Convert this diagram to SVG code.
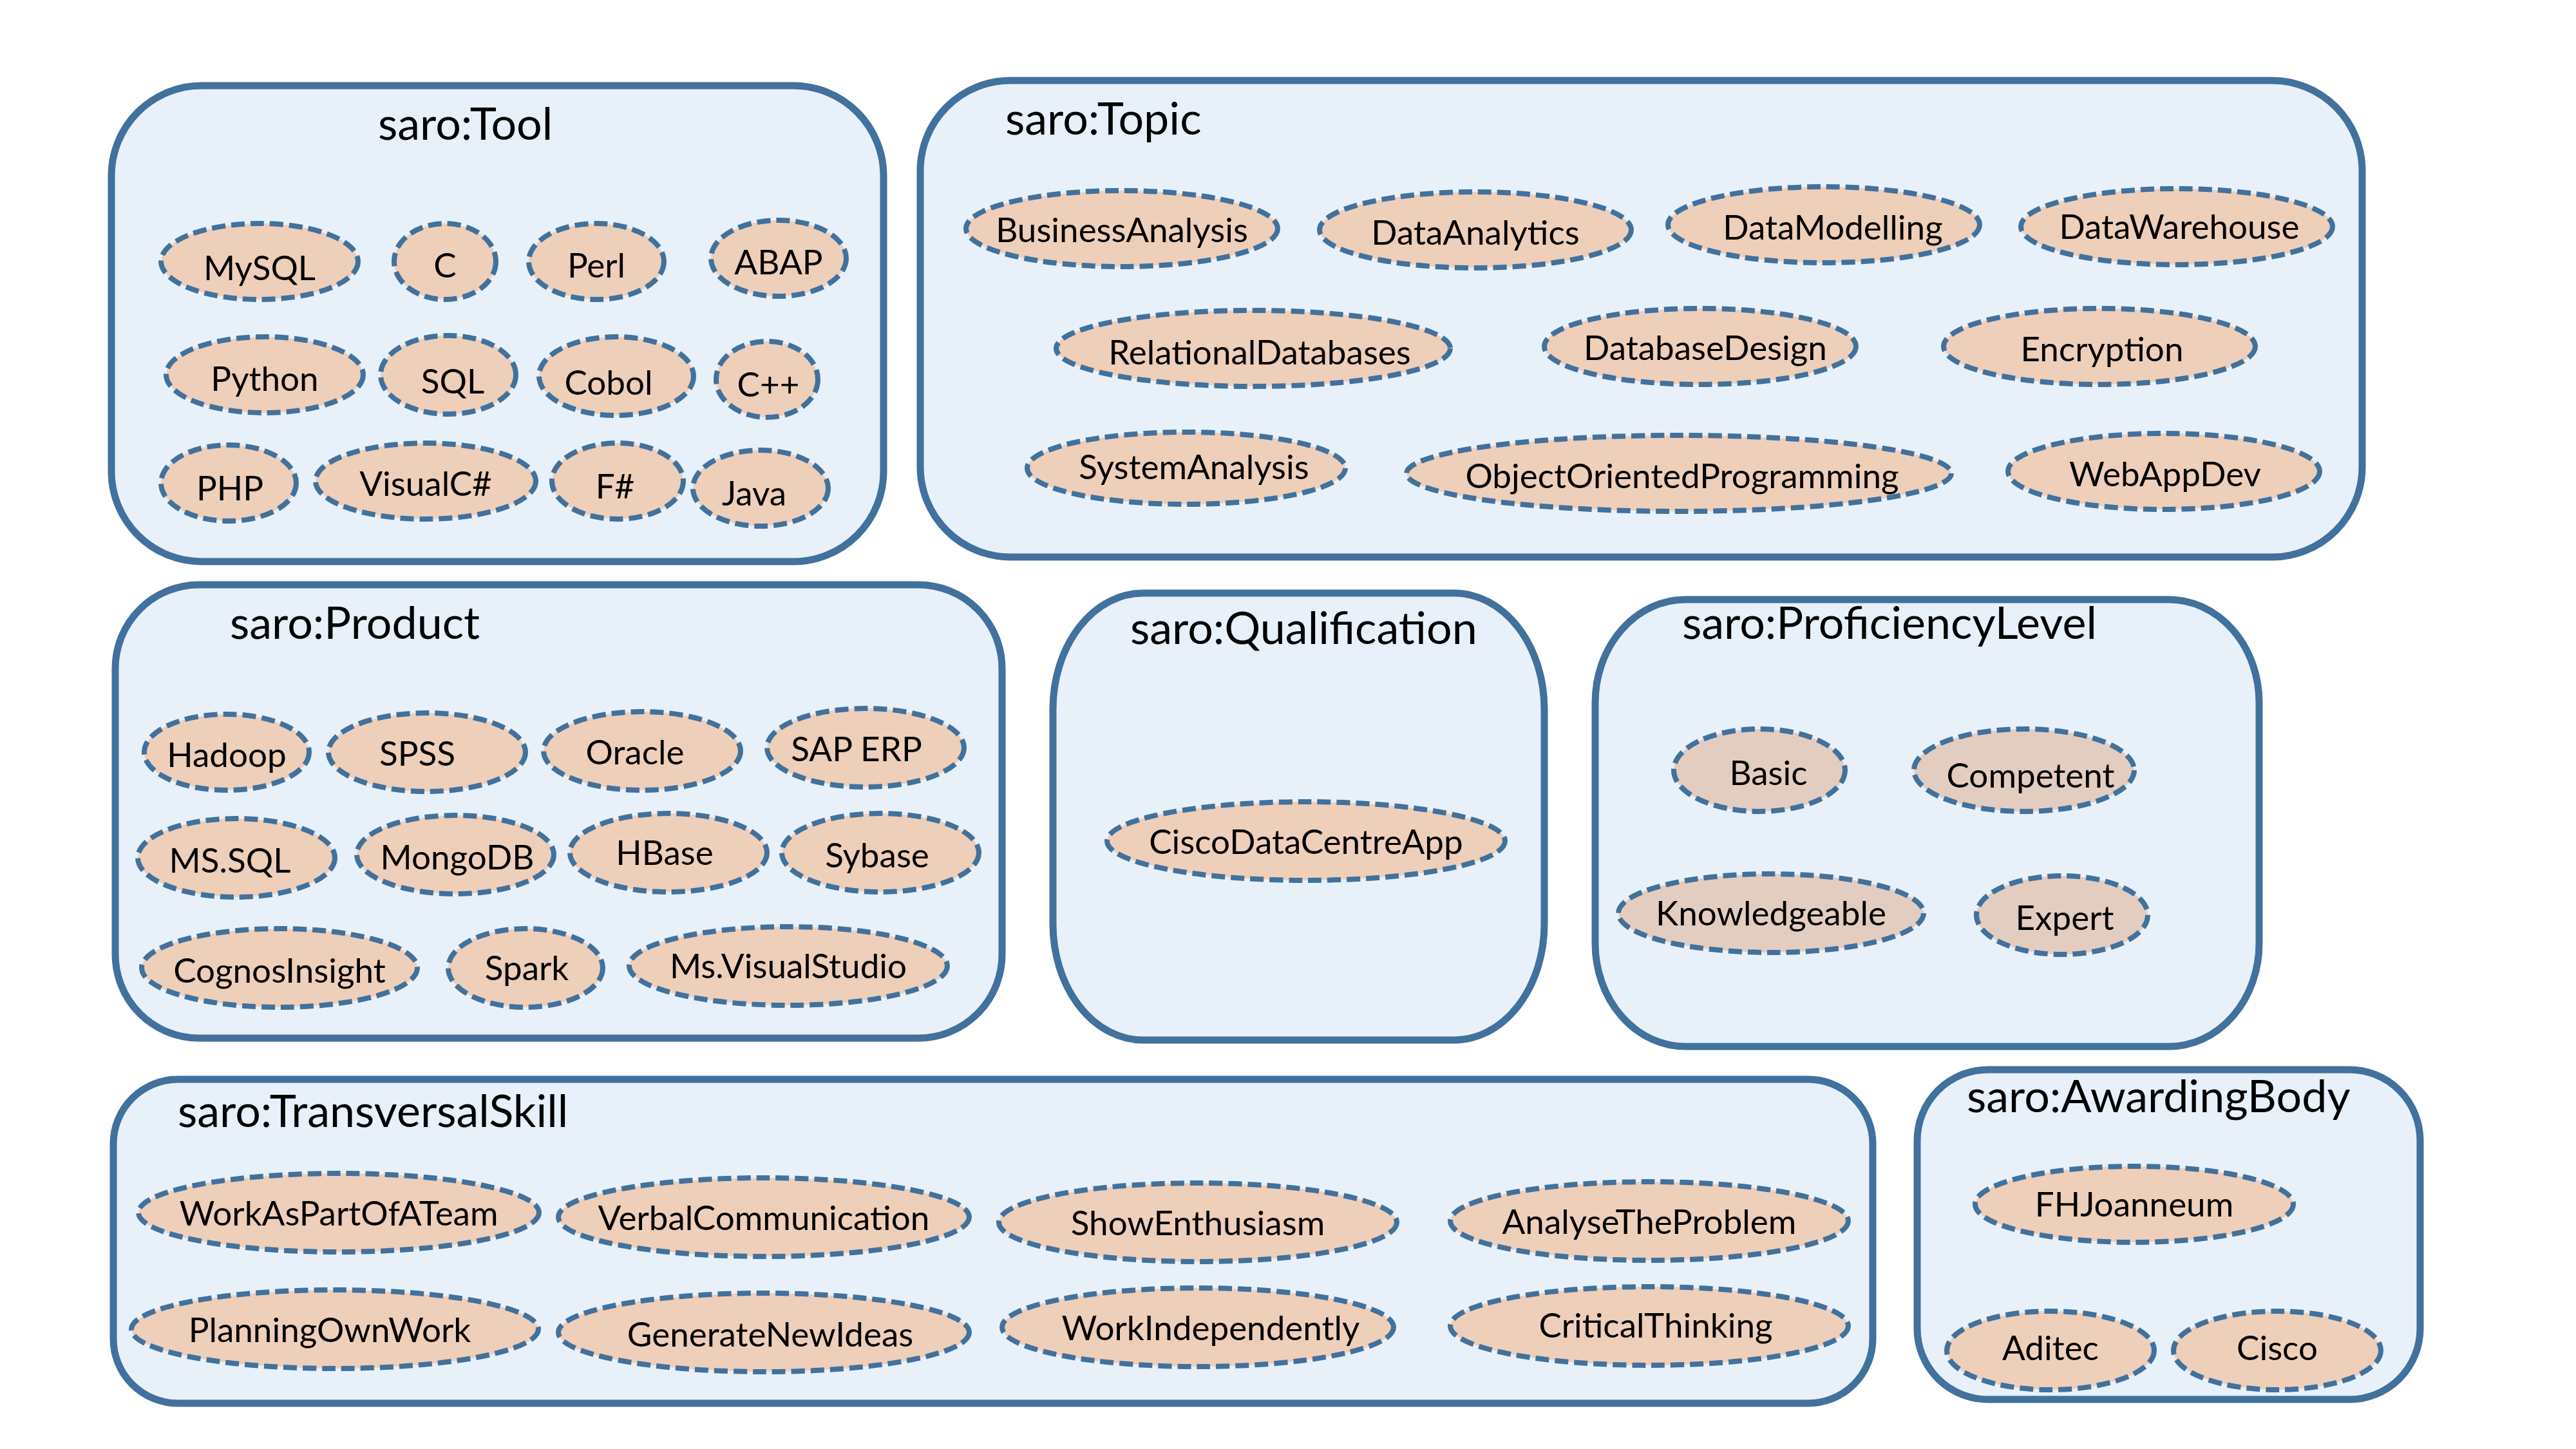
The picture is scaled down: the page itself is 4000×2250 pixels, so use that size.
<svg xmlns="http://www.w3.org/2000/svg" width="4000" height="2250" viewBox="0 0 4000 2250">
<style>
.box{fill:#E8F0F9;stroke:#41719C;stroke-width:11}
.el{fill:#EECFBA;stroke:#41719C;stroke-width:8;stroke-dasharray:21 9}
.el2{fill:#E3CDC1;stroke:#41719C;stroke-width:8;stroke-dasharray:21 9}
.t{font-family:Lato,"Liberation Sans",sans-serif;font-size:70px;fill:#000}
.l{font-family:Lato,"Liberation Sans",sans-serif;font-size:53px;fill:#000;text-anchor:middle;dominant-baseline:central}
</style>
<rect width="4000" height="2250" fill="#fff"/>
<g id="connectors"></g>

<g id="tool">
<rect class="box" x="173" y="133" width="1199" height="739" rx="140" ry="140"/>
<text class="t" x="587" y="217">saro:Tool</text>
<g id="mysql"><ellipse class="el" cx="403" cy="406" rx="153" ry="59"/><text class="l" x="403" y="414">MySQL</text></g>
<g id="c"><ellipse class="el" cx="691" cy="406" rx="79" ry="59"/><text class="l" x="691" y="410">C</text></g>
<g id="perl"><ellipse class="el" cx="926" cy="406" rx="105" ry="59"/><text class="l" x="926" y="410">Perl</text></g>
<g id="abap"><ellipse class="el" cx="1209" cy="401" rx="105" ry="59"/><text class="l" x="1209" y="405">ABAP</text></g>
<g id="python"><ellipse class="el" cx="411" cy="582" rx="153" ry="59"/><text class="l" x="411" y="586">Python</text></g>
<g id="sql"><ellipse class="el" cx="696" cy="582" rx="105" ry="61"/><text class="l" x="703" y="590">SQL</text></g>
<g id="cobol"><ellipse class="el" cx="957" cy="584" rx="120" ry="61"/><text class="l" x="945" y="592">Cobol</text></g>
<g id="cpp"><ellipse class="el" cx="1191" cy="589" rx="79" ry="59"/><text class="l" x="1193" y="595">C++</text></g>
<g id="php"><ellipse class="el" cx="355" cy="750" rx="105" ry="59"/><text class="l" x="357" y="756">PHP</text></g>
<g id="visualcs"><ellipse class="el" cx="661" cy="747" rx="171" ry="59"/><text class="l" x="661" y="749">VisualC#</text></g>
<g id="fsharp"><ellipse class="el" cx="959" cy="747" rx="102" ry="59"/><text class="l" x="955" y="753">F#</text></g>
<g id="java"><ellipse class="el" cx="1181" cy="758" rx="105" ry="59"/><text class="l" x="1171" y="764">Java</text></g>
</g>

<g id="topic">
<rect class="box" x="1429" y="125" width="2239" height="740" rx="140" ry="140"/>
<text class="t" x="1561" y="209">saro:Topic</text>
<g id="businessanalysis"><ellipse class="el" cx="1742" cy="355" rx="242" ry="59"/><text class="l" x="1742" y="355">BusinessAnalysis</text></g>
<g id="dataanalytics"><ellipse class="el" cx="2291" cy="357" rx="242" ry="59"/><text class="l" x="2291" y="359">DataAnalytics</text></g>
<g id="datamodelling"><ellipse class="el" cx="2832" cy="349" rx="242" ry="59"/><text class="l" x="2846" y="351">DataModelling</text></g>
<g id="datawarehouse"><ellipse class="el" cx="3380" cy="352" rx="242" ry="59"/><text class="l" x="3384" y="350">DataWarehouse</text></g>
<g id="relationaldatabases"><ellipse class="el" cx="1946" cy="541" rx="306" ry="59"/><text class="l" x="1956" y="545">RelationalDatabases</text></g>
<g id="databasedesign"><ellipse class="el" cx="2640" cy="538" rx="242" ry="59"/><text class="l" x="2648" y="538">DatabaseDesign</text></g>
<g id="encryption"><ellipse class="el" cx="3260" cy="538" rx="242" ry="59"/><text class="l" x="3264" y="540">Encryption</text></g>
<g id="systemanalysis"><ellipse class="el" cx="1842" cy="727" rx="247" ry="56"/><text class="l" x="1854" y="723">SystemAnalysis</text></g>
<g id="oop"><ellipse class="el" cx="2607" cy="735" rx="423" ry="59"/><text class="l" x="2612" y="737">ObjectOrientedProgramming</text></g>
<g id="webappdev"><ellipse class="el" cx="3360" cy="732" rx="242" ry="59"/><text class="l" x="3362" y="734">WebAppDev</text></g>
</g>

<g id="product">
<rect class="box" x="179" y="908" width="1377" height="704" rx="130" ry="130"/>
<text class="t" x="357" y="992">saro:Product</text>
<g id="hadoop"><ellipse class="el" cx="352" cy="1168" rx="128" ry="59"/><text class="l" x="352" y="1170">Hadoop</text></g>
<g id="spss"><ellipse class="el" cx="663" cy="1168" rx="153" ry="61"/><text class="l" x="648" y="1168">SPSS</text></g>
<g id="oracle"><ellipse class="el" cx="997" cy="1166" rx="153" ry="61"/><text class="l" x="986" y="1166">Oracle</text></g>
<g id="saperp"><ellipse class="el" cx="1344" cy="1161" rx="153" ry="61"/><text class="l" x="1330" y="1161">SAP ERP</text></g>
<g id="mssql"><ellipse class="el" cx="367" cy="1332" rx="153" ry="61"/><text class="l" x="357" y="1334">MS.SQL</text></g>
<g id="mongodb"><ellipse class="el" cx="707" cy="1327" rx="153" ry="61"/><text class="l" x="710" y="1329">MongoDB</text></g>
<g id="hbase"><ellipse class="el" cx="1038" cy="1324" rx="153" ry="61"/><text class="l" x="1032" y="1322">HBase</text></g>
<g id="sybase"><ellipse class="el" cx="1367" cy="1324" rx="153" ry="61"/><text class="l" x="1362" y="1326">Sybase</text></g>
<g id="cognosinsight"><ellipse class="el" cx="434" cy="1503" rx="214" ry="61"/><text class="l" x="434" y="1505">CognosInsight</text></g>
<g id="spark"><ellipse class="el" cx="816" cy="1503" rx="120" ry="61"/><text class="l" x="818" y="1501">Spark</text></g>
<g id="msvisualstudio"><ellipse class="el" cx="1224" cy="1500" rx="247" ry="61"/><text class="l" x="1224" y="1498">Ms.VisualStudio</text></g>
</g>

<g id="qualification">
<rect class="box" x="1635" y="921" width="763" height="694" rx="140" ry="180"/>
<text class="t" x="1755" y="1000">saro:Qualification</text>
<g id="ciscodatacentreapp"><ellipse class="el" cx="2028" cy="1306" rx="309" ry="61"/><text class="l" x="2028" y="1305">CiscoDataCentreApp</text></g>
</g>

<g id="proficiencylevel">
<rect class="box" x="2477" y="931" width="1031" height="694" rx="140" ry="160"/>
<text class="t" x="2612" y="992">saro:ProficiencyLevel</text>
<g id="basic"><ellipse class="el2" cx="2732" cy="1196" rx="133" ry="64"/><text class="l" x="2746" y="1198">Basic</text></g>
<g id="competent"><ellipse class="el2" cx="3143" cy="1196" rx="171" ry="64"/><text class="l" x="3153" y="1202">Competent</text></g>
<g id="knowledgeable"><ellipse class="el2" cx="2750" cy="1418" rx="237" ry="61"/><text class="l" x="2750" y="1416">Knowledgeable</text></g>
<g id="expert"><ellipse class="el2" cx="3202" cy="1421" rx="133" ry="61"/><text class="l" x="3206" y="1423">Expert</text></g>
</g>

<g id="transversalskill">
<rect class="box" x="176" y="1676" width="2732" height="503" rx="100" ry="100"/>
<text class="t" x="276" y="1750">saro:TransversalSkill</text>
<g id="workaspartofateam"><ellipse class="el" cx="526" cy="1883" rx="311" ry="61"/><text class="l" x="526" y="1882">WorkAsPartOfATeam</text></g>
<g id="verbalcommunication"><ellipse class="el" cx="1186" cy="1890" rx="319" ry="61"/><text class="l" x="1186" y="1889">VerbalCommunication</text></g>
<g id="showenthusiasm"><ellipse class="el" cx="1860" cy="1898" rx="309" ry="61"/><text class="l" x="1860" y="1897">ShowEnthusiasm</text></g>
<g id="analysetheproblem"><ellipse class="el" cx="2561" cy="1896" rx="309" ry="61"/><text class="l" x="2561" y="1895">AnalyseTheProblem</text></g>
<g id="planningownwork"><ellipse class="el" cx="520" cy="2064" rx="316" ry="61"/><text class="l" x="512" y="2063">PlanningOwnWork</text></g>
<g id="generatenewideas"><ellipse class="el" cx="1186" cy="2069" rx="319" ry="61"/><text class="l" x="1196" y="2070">GenerateNewIdeas</text></g>
<g id="workindependently"><ellipse class="el" cx="1860" cy="2061" rx="304" ry="61"/><text class="l" x="1880" y="2060">WorkIndependently</text></g>
<g id="criticalthinking"><ellipse class="el" cx="2561" cy="2059" rx="309" ry="61"/><text class="l" x="2571" y="2056">CriticalThinking</text></g>
</g>

<g id="awardingbody">
<rect class="box" x="2977" y="1661" width="781" height="512" rx="110" ry="110"/>
<text class="t" x="3054" y="1727">saro:AwardingBody</text>
<g id="fhjoanneum"><ellipse class="el" cx="3314" cy="1870" rx="247" ry="59"/><text class="l" x="3314" y="1868">FHJoanneum</text></g>
<g id="aditec"><ellipse class="el" cx="3184" cy="2097" rx="161" ry="61"/><text class="l" x="3184" y="2091">Aditec</text></g>
<g id="cisco"><ellipse class="el" cx="3536" cy="2097" rx="161" ry="61"/><text class="l" x="3536" y="2091">Cisco</text></g>
</g>
</svg>
